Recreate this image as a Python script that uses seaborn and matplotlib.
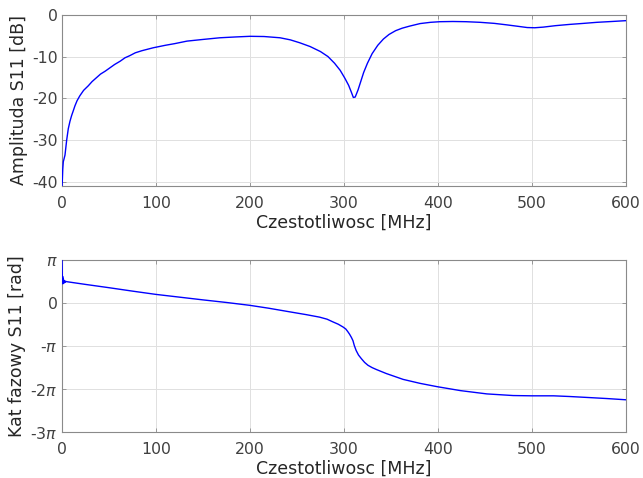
import numpy as np
import pandas as pd
import seaborn as sns
import matplotlib.pyplot as plt

# Amplituda S11 [dB]
freq_amp = [0, 0.3, 0.8, 1.4, 2.2, 3.2, 4, 5, 6.7, 8.5, 10.3, 12, 13.8, 16, 19, 23, 28,
            32, 37, 41, 46, 51, 56, 62, 67, 72, 78, 85, 97, 110, 120, 133, 150, 168, 185,
            200, 215, 232, 243, 253, 264, 275, 283, 290, 296, 301, 305, 308, 310, 312,
            315, 318, 321, 325, 330, 336, 342, 348, 355, 362, 370, 381, 392, 402, 416,
            430, 445, 460, 473, 485, 495, 503, 512, 525, 540, 555, 569, 585, 600]
amp_db = [-41, -40, -37, -35.2, -34.5, -33.6, -32, -30, -27.3, -25.5, -24.1, -23, -21.8,
          -20.6, -19.4, -18.1, -17.0, -16.0, -15.0, -14.2, -13.5, -12.7, -11.9, -11.1,
          -10.3, -9.8, -9.1, -8.6, -7.9, -7.3, -6.9, -6.3, -5.9, -5.5, -5.3, -5.15, -5.2,
          -5.5, -6.0, -6.7, -7.6, -8.8, -10.0, -11.6, -13.3, -15.2, -16.9, -18.6, -19.8,
          -19.7, -18.0, -15.9, -13.8, -11.6, -9.3, -7.3, -5.8, -4.7, -3.8, -3.2, -2.7,
          -2.1, -1.8, -1.65, -1.6, -1.65, -1.8, -2.05, -2.4, -2.75, -3.05, -3.1, -2.95,
          -2.6, -2.3, -2.05, -1.8, -1.6, -1.4]

# Kat fazowy S11 [rad]
freq_ph = [0, 0.15, 0.3, 0.5, 0.7, 0.9, 1.1, 1.3, 1.6, 1.9, 2.2, 2.6, 3.0, 3.5, 4, 5,
           25, 50, 75, 100, 125, 150, 175, 200, 220, 242, 260, 274, 282, 288, 294, 299,
           302, 304, 306, 308, 309.6, 311, 313, 315.5, 318.6, 322, 325.6, 330, 334.6,
           345, 363, 381, 399, 424, 452, 480, 500, 523, 540, 559, 580, 600]
phase = [3.14, 2.7, 2.1, 1.5, 1.95, 1.4, 1.8, 1.5, 1.7, 1.45, 1.65, 1.5, 1.62, 1.52,
         1.58, 1.56, 1.36, 1.12, 0.87, 0.63, 0.43, 0.23, 0.04, -0.17, -0.38, -0.64, -0.85,
         -1.03, -1.18, -1.37, -1.55, -1.75, -1.9, -2.08, -2.28, -2.52, -2.75, -3.1, -3.47,
         -3.8, -4.07, -4.34, -4.55, -4.72, -4.86, -5.15, -5.58, -5.87, -6.11, -6.40,
         -6.64, -6.76, -6.78, -6.78, -6.83, -6.90, -6.98, -7.07]

df_amp = pd.DataFrame({'f': freq_amp, 'a': amp_db})
df_ph = pd.DataFrame({'f': freq_ph, 'p': phase})

sns.set_theme(style='whitegrid')
plt.rcParams['font.family'] = ['DejaVu Sans']
plt.rcParams['axes.unicode_minus'] = False

fig = plt.figure(figsize=(6.43, 4.78), dpi=100)
ax1 = fig.add_axes([0.0964, 0.611, 0.877, 0.358])
ax2 = fig.add_axes([0.0964, 0.0962, 0.877, 0.3598])

sns.lineplot(data=df_amp, x='f', y='a', ax=ax1, color='#0000ff', linewidth=1, zorder=3)
sns.lineplot(data=df_ph, x='f', y='p', ax=ax2, color='#0000ff', linewidth=1, zorder=3)

ax1.set_ylim(-41, 0)
ax1.set_yticks([0, -10, -20, -30, -40])
ax1.set_ylabel('Amplituda S11 [dB]', fontsize=12.5, labelpad=3)

ax2.set_ylim(-3 * np.pi, np.pi)
ax2.set_yticks([np.pi, 0, -np.pi, -2 * np.pi, -3 * np.pi])
ax2.set_yticklabels([r'$\pi$', '0', r'-$\pi$', r'-2$\pi$', r'-3$\pi$'])
ax2.set_ylabel('Kat fazowy S11 [rad]', fontsize=12.5, labelpad=3)

for ax in (ax1, ax2):
    ax.set_xlim(0, 600)
    ax.set_xticks([0, 100, 200, 300, 400, 500, 600])
    ax.set_xlabel('Czestotliwosc [MHz]', fontsize=12.5, labelpad=2.5)
    ax.set_facecolor('white')
    ax.grid(True, color='#e0e0e0', linewidth=0.7)
    for s in ax.spines.values():
        s.set_color('#8a8a8a')
        s.set_linewidth(0.8)
    ax.tick_params(direction='in', length=3, width=0.6, colors='#8a8a8a',
                   labelcolor='#404040', labelsize=11.3, pad=3,
                   top=True, right=True, bottom=True, left=True)
    ax.tick_params(axis='x', pad=7)

fig.savefig('out.png', dpi=100)
